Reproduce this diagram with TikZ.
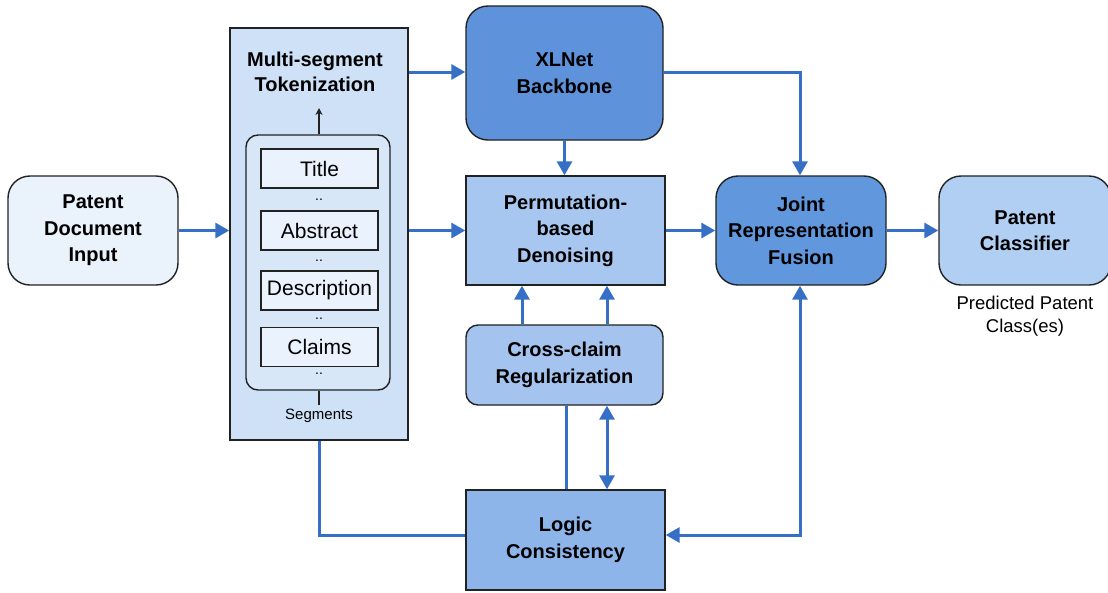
\documentclass[tikz,border=0pt]{standalone}
\usepackage{fontspec}
\setmainfont{Liberation Sans}
\usetikzlibrary{arrows.meta}
\definecolor{arr}{HTML}{3570C6}
\definecolor{cIn}{HTML}{EAF2FC}
\definecolor{cTok}{HTML}{CFE1F7}
\definecolor{cInner}{HTML}{D8E7F8}
\definecolor{cSeg}{HTML}{EAF3FD}
\definecolor{cXL}{HTML}{5E93DC}
\definecolor{cPerm}{HTML}{A7C7F0}
\definecolor{cJoint}{HTML}{6097DD}
\definecolor{cCls}{HTML}{B0CFF3}
\definecolor{cCross}{HTML}{A4C4EF}
\definecolor{cLogic}{HTML}{8DB5EA}
\definecolor{edge}{HTML}{222222}
\tikzset{
  blk/.style={draw=edge, line width=1.4pt, align=center, inner sep=0pt,
    font=\fontsize{20}{26.5}\selectfont\bfseries},
  rblk/.style={blk, rounded corners=22pt},
  seg/.style={draw=edge, line width=1.2pt, fill=cSeg, minimum width=117pt, minimum height=39pt,
    inner sep=0pt, font=\fontsize{21}{24}\selectfont},
  flow/.style={draw=arr, line width=3pt, -{Triangle[length=14pt,width=15pt]}},
  flowl/.style={draw=arr, line width=3pt},
  flowb/.style={draw=arr, line width=3pt, {Triangle[length=14pt,width=15pt]}-{Triangle[length=14pt,width=15pt]}},
  dots/.style={font=\fontsize{14}{14}\selectfont, inner sep=0pt},
}
\begin{document}
\begin{tikzpicture}[x=1pt,y=-1pt]
\useasboundingbox (0,0) rectangle (1108,592);
\fill[white] (0,0) rectangle (1108,592);

% Patent input
\node[rblk, fill=cIn, minimum width=170pt, minimum height=109pt] (inp) at (93,230.5) {Patent\\Document\\Input};

% Tokenization big box
\node[draw=edge, line width=1.4pt, fill=cTok, minimum width=178pt, minimum height=412pt, inner sep=0pt] (tok) at (319,234) {};
\node[font=\fontsize{20}{25}\selectfont\bfseries, align=center] (toktitle) at (315,72) {Multi-segment\\Tokenization};
\node[draw=edge, line width=1.4pt, fill=cInner, rounded corners=12pt, minimum width=144pt, minimum height=255pt, inner sep=0pt] (inner) at (318,262.5) {};
\coordinate (tokin) at (319,108);
\draw[edge, line width=1.4pt, -{Stealth[length=7pt,width=7pt]}] (inner.north -| tokin) -- (tokin);

\node[seg] (title) at (319.5,168.5) {Title};
\node[seg] (abs) at (319.5,230.5) {Abstract};
\node[seg] (desc) at (319.5,290.5) {Description};
\node[seg] (claims) at (319.5,347) {Claims};
\node[dots] (d1) at (319,200) {..};
\node[dots] (d2) at (319,261) {..};
\node[dots] (d3) at (319,319) {..};
\node[dots] (d4) at (319,374) {..};
\node[font=\fontsize{15}{18}\selectfont, inner sep=0pt] (segl) at (319,416) {Segments};
\draw[edge, line width=1.4pt] (inner.south -| segl) -- ++(0,14);

% XLNet
\node[rblk, fill=cXL, minimum width=197pt, minimum height=134pt] (xl) at (564.5,73) {XLNet\\Backbone};
% Permutation
\node[blk, fill=cPerm, minimum width=199pt, minimum height=109pt] (perm) at (565.5,230.5) {Permutation-\\based\\Denoising};
% Joint
\node[rblk, fill=cJoint, minimum width=170pt, minimum height=109pt] (joint) at (801,230.5) {Joint\\Representation\\Fusion};
% Classifier
\node[rblk, fill=cCls, minimum width=172pt, minimum height=109pt] (cls) at (1025,230.5) {Patent\\Classifier};
\node[font=\fontsize{18.5}{23}\selectfont, align=center, inner sep=0pt] (pred) at (1025,316) {Predicted Patent\\Class(es)};
% Cross-claim
\node[rblk, rounded corners=12pt, fill=cCross, minimum width=197pt, minimum height=80pt] (cross) at (564.5,365) {Cross-claim\\Regularization};
% Logic
\node[blk, fill=cLogic, minimum width=199pt, minimum height=100pt] (logic) at (565.5,540) {Logic\\Consistency};

% connectors
\draw[flow] (inp.east) -- (tok.west |- inp.east);
\coordinate (xlrow) at (0,72);
\draw[flow] (tok.east |- xlrow) -- (xl.west |- xlrow);
\draw[flow] (tok.east |- perm.west) -- (perm.west);
\draw[flow] (xl.south) -- (perm.north -| xl.south);
\coordinate (jx) at (800,0);
\draw[flow] (xl.east |- xlrow) -| (joint.north -| jx);
\draw[flow] (perm.east) -- (joint.west);
\draw[flow] (joint.east) -- (cls.west);
\coordinate (c1) at (522,0);
\coordinate (c2) at (607,0);
\draw[flow] (cross.north -| c1) -- (perm.south -| c1);
\draw[flow] (cross.north -| c2) -- (perm.south -| c2);
\coordinate (c3) at (566,0);
\draw[flowl] (cross.south -| c3) -- (logic.north -| c3);
\draw[flowb] (cross.south -| c2) -- (logic.north -| c2);
\coordinate (lrow) at (0,535);
\draw[flowb] (logic.east |- lrow) -| (joint.south -| jx);
\draw[flowl] (tok.south) |- (logic.west |- lrow);
\end{tikzpicture}
\end{document}
